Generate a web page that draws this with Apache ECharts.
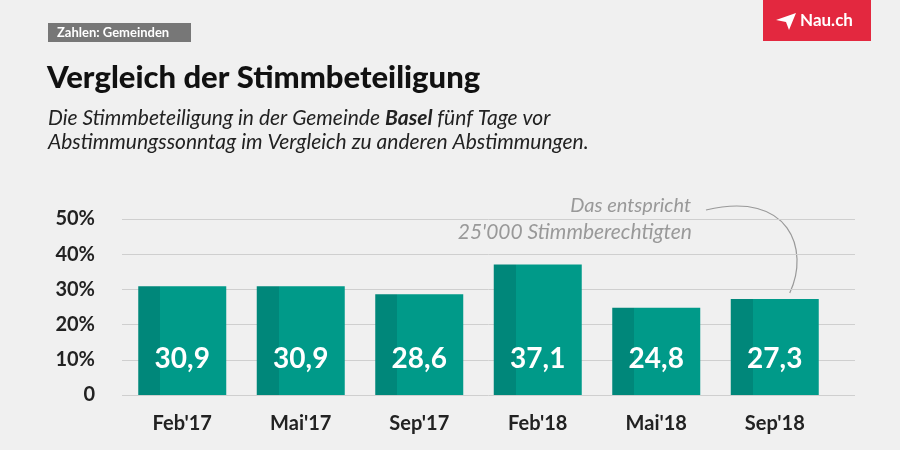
<!DOCTYPE html>
<html>
<head>
<meta charset="utf-8">
<script src="https://cdn.jsdelivr.net/npm/echarts@6/dist/echarts.min.js"></script>
<style>html,body{margin:0;padding:0;background:#f0f0f0;}#c{width:900px;height:450px;}</style>
</head>
<body>
<div id="c"></div>
<script>
const categories = ["Feb'17", "Mai'17", "Sep'17", "Feb'18", "Mai'18", "Sep'18"];
const turnout = [30.9, 30.9, 28.6, 37.1, 24.8, 27.3];
const yTicks = [0, 10, 20, 30, 40, 50];

const FONT = 'Lato, "Noto Sans", sans-serif';
const chart = echarts.init(document.getElementById('c'));
const barColor = {
  type: 'linear', x: 0, y: 0, x2: 1, y2: 0,
  colorStops: [
    {offset: 0, color: '#00877a'}, {offset: 0.25, color: '#00877a'},
    {offset: 0.25, color: '#009a89'}, {offset: 1, color: '#009a89'}
  ]
};
const option = {
  backgroundColor: '#f0f0f0',
  animation: false,
  grid: [
    {left: 122, right: 45, top: 219, bottom: 55},
    {left: 123, right: 66, top: 219, bottom: 55}
  ],
  xAxis: [
    {gridIndex: 0, type: 'value', show: false, min: 0, max: 1},
    {gridIndex: 1, type: 'category', data: categories,
     axisLine: {show: false}, axisTick: {show: false},
     axisLabel: {color: '#222', fontFamily: FONT, fontWeight: 'bold', fontSize: 20, margin: 19}}
  ],
  yAxis: [
    {gridIndex: 0, type: 'value', min: yTicks[0], max: yTicks[yTicks.length - 1], interval: 10,
     axisLine: {show: false}, axisTick: {show: false},
     splitLine: {lineStyle: {color: '#cfcfcf', width: 1}},
     axisLabel: {color: '#222', fontFamily: FONT, fontWeight: 'bold', fontSize: 20, margin: 27,
       formatter: v => v === 0 ? '0' : v + '%'}},
    {gridIndex: 1, type: 'value', min: 0, max: 50, show: false}
  ],
  series: [{
    type: 'bar', xAxisIndex: 1, yAxisIndex: 1, data: turnout, barWidth: 88,
    itemStyle: {color: barColor},
    label: {show: true, position: 'insideBottom', distance: 22, color: '#fff',
      fontFamily: FONT, fontWeight: 'bold', fontSize: 28,
      formatter: p => String(p.value).replace('.', ',')}
  }],
  graphic: [
    {type: 'rect', shape: {x: 48, y: 23, width: 143, height: 19}, style: {fill: '#777777'}},
    {type: 'text', x: 57, y: 33, style: {text: 'Zahlen: Gemeinden', fill: '#fff', font: 'bold 13px ' + FONT, verticalAlign: 'middle'}},
    {type: 'rect', shape: {x: 763, y: 0, width: 108, height: 41}, style: {fill: '#e3283f'}},
    {type: 'polygon', shape: {points: [[776, 20], [796, 13], [789, 30], [786, 22]]}, style: {fill: '#fff'}},
    {type: 'text', x: 800, y: 21, style: {text: 'Nau.ch', fill: '#fff', font: 'bold 17px ' + FONT, verticalAlign: 'middle'}},
    {type: 'text', x: 47, y: 78, style: {text: 'Vergleich der Stimmbeteiligung', fill: '#111', font: '900 31px ' + FONT, verticalAlign: 'middle'}},
    {type: 'text', x: 48, y: 130, style: {
      text: '{i|Die Stimmbeteiligung in der Gemeinde }{b|Basel}{i| fünf Tage vor}\n{i|Abstimmungssonntag im Vergleich zu anderen Abstimmungen.}',
      verticalAlign: 'middle', lineHeight: 24,
      rich: {
        i: {fill: '#222', font: 'italic 21px ' + FONT, lineHeight: 24},
        b: {fill: '#222', font: 'italic bold 21px ' + FONT, lineHeight: 24}
      }}},
    {type: 'text', x: 691, y: 206, style: {text: 'Das entspricht', fill: '#999', font: 'italic 20px ' + FONT, align: 'right', verticalAlign: 'middle'}},
    {type: 'text', x: 692, y: 232, style: {text: "25'000 Stimmberechtigten", fill: '#999', font: 'italic 21px ' + FONT, align: 'right', verticalAlign: 'middle'}}
  ]
};
chart.setOption(option);
// annotation curve pointing to the Sep'18 bar
const end = chart.convertToPixel({xAxisIndex: 1, yAxisIndex: 1}, [categories[5], turnout[5]]);
chart.setOption({graphic: option.graphic.concat([{
  type: 'bezierCurve',
  shape: {x1: 706, y1: 210, cpx1: 790, cpy1: 190, cpx2: 810, cpy2: 250, x2: end[0] + 15, y2: end[1] - 6},
  style: {stroke: '#999', lineWidth: 1.2, fill: null}
}])});
</script>
</body>
</html>
